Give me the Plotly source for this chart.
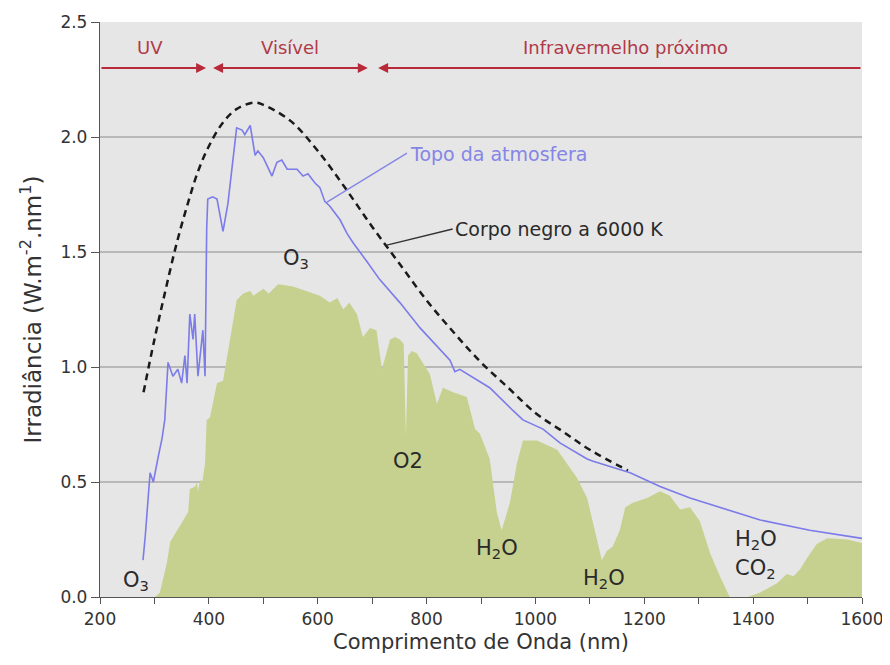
import plotly.graph_objects as go

# Top of atmosphere spectrum
toa_wl = [279,283,292,298,307,314,319,325,334,343,350,356,360,365,371,374,380,387,389,393,
          396,398,407,415,426,435,451,461,466,476,485,490,500,516,525,534,544,562,573,582,
          595,604,613,622,641,654,665,690,714,751,788,843,852,861,916,959,977,1014,1045,1095,
          1106,1174,1229,1284,1339,1413,1504,1600]
toa_val = [0.16,0.26,0.54,0.50,0.61,0.69,0.77,1.02,0.96,0.99,0.93,1.05,0.93,1.23,1.12,1.23,0.96,1.10,1.16,0.96,
           1.60,1.73,1.74,1.73,1.59,1.71,2.04,2.03,2.01,2.05,1.92,1.94,1.91,1.83,1.89,1.90,1.86,1.86,1.83,1.84,
           1.80,1.78,1.72,1.70,1.64,1.58,1.54,1.46,1.38,1.28,1.17,1.03,0.98,0.99,0.91,0.81,0.77,0.73,0.67,0.60,
           0.59,0.54,0.48,0.43,0.39,0.335,0.29,0.255]

# Sea level spectrum (green area)
sea_wl = [301,310,323,329,347,362,365,375,378,380,384,388,393,396,402,415,426,439,451,463,
          476,482,500,510,527,555,580,604,622,636,647,658,672,683,696,708,718,733,742,751,
          758,762,766,773,782,806,819,830,849,874,889,898,916,929,938,953,966,977,1003,1040,
          1076,1095,1110,1122,1131,1142,1155,1165,1179,1205,1229,1247,1266,1284,1302,1321,1339,1352,1357,1390,
          1413,1444,1462,1474,1486,1499,1517,1536,1573,1600]
sea_val = [0,0.02,0.15,0.24,0.31,0.37,0.47,0.48,0.50,0.46,0.51,0.50,0.58,0.77,0.78,0.93,0.94,1.13,1.29,1.32,
           1.33,1.31,1.34,1.32,1.36,1.35,1.33,1.31,1.28,1.30,1.25,1.28,1.23,1.13,1.17,1.16,0.99,1.12,1.13,1.12,
           1.10,0.70,1.05,1.07,1.06,0.97,0.84,0.91,0.89,0.87,0.73,0.71,0.60,0.37,0.29,0.41,0.58,0.68,0.68,0.64,
           0.52,0.43,0.28,0.16,0.20,0.22,0.29,0.39,0.41,0.43,0.46,0.44,0.38,0.39,0.33,0.19,0.09,0.02,0.0,0.0,
           0.02,0.06,0.10,0.09,0.12,0.17,0.23,0.255,0.25,0.235]

# Black body at 6000 K
bb_wl = [280,300,320,340,360,380,400,425,450,483,500,550,600,650,700,750,800,850,900,950,1000,1050,1100,1170]
bb_val = [0.89,1.12,1.33,1.53,1.70,1.85,1.96,2.06,2.12,2.15,2.14,2.07,1.94,1.78,1.61,1.45,1.29,1.15,1.02,0.91,0.80,0.72,0.64,0.55]

x_tickvals = [200,300,400,500,600,700,800,900,1000,1100,1200,1300,1400,1500,1600]
x_ticktext = ["200","","400","","600","","800","","1000","","1200","","1400","","1600"]
y_tickvals = [0.0,0.5,1.0,1.5,2.0,2.5]

FONT = "DejaVu Sans"
RED = "#b8293a"
BLUE = "#7b7bea"
DARK = "#2a2a2a"

fig = go.Figure()
fig.add_trace(go.Scatter(x=sea_wl, y=sea_val, mode="lines", fill="tozeroy",
                         fillcolor="#c6d190", line=dict(width=0, color="#c6d190"),
                         hoverinfo="skip", showlegend=False))
fig.add_trace(go.Scatter(x=bb_wl, y=bb_val, mode="lines", line_shape="spline",
                         line=dict(color="#1a1a1a", width=2.5, dash="7px,5px"),
                         showlegend=False))
fig.add_trace(go.Scatter(x=toa_wl, y=toa_val, mode="lines",
                         line=dict(color=BLUE, width=1.6), showlegend=False))

annotations = []
# Region arrows
for (x_head, x_tail, side) in [(395, 200, "end"), (692, 405, "end+start"), (711, 1600, "end")]:
    annotations.append(dict(x=x_head, y=2.3, ax=x_tail, ay=2.3, xref="x", yref="y",
                            axref="x", ayref="y", text="", showarrow=True,
                            arrowhead=2, arrowsize=1.0, arrowwidth=2, arrowcolor=RED,
                            arrowside=side, startarrowhead=2, startarrowsize=1.0))
for (txt, xx) in [("UV", 292), ("Visível", 549), ("Infravermelho próximo", 1165)]:
    annotations.append(dict(x=xx, y=2.39, xref="x", yref="y", text=txt, showarrow=False,
                            font=dict(family=FONT, size=18, color="#b03a48")))

chem = [("O<sub>3</sub>", 266, 0.07), ("O<sub>3</sub>", 560, 1.47), ("O2", 766, 0.59),
        ("H<sub>2</sub>O", 930, 0.21), ("H<sub>2</sub>O", 1126, 0.08),
        ("H<sub>2</sub>O", 1405, 0.25), ("CO<sub>2</sub>", 1405, 0.12)]
for (txt, xx, yy) in chem:
    annotations.append(dict(x=xx, y=yy, xref="x", yref="y", text=txt, showarrow=False,
                            font=dict(family=FONT, size=21, color=DARK)))

annotations.append(dict(x=766, y=1.925, xref="x", yref="y", text="Topo da atmosfera",
                        showarrow=False, xanchor="left",
                        font=dict(family=FONT, size=19, color="#8585e6")))
annotations.append(dict(x=848, y=1.60, xref="x", yref="y", text="Corpo negro a 6000 K",
                        showarrow=False, xanchor="left",
                        font=dict(family=FONT, size=19, color=DARK)))

shapes = [
    dict(type="line", xref="x", yref="y", x0=764, y0=1.93, x1=617, y1=1.717,
         line=dict(color="#8585e6", width=1.3)),
    dict(type="line", xref="x", yref="y", x0=848, y0=1.60, x1=727, y1=1.53,
         line=dict(color="#333333", width=1.3)),
]

fig.update_layout(
    width=890, height=665,
    margin=dict(l=92, r=36, t=14, b=76),
    paper_bgcolor="white", plot_bgcolor="#e6e6e6",
    font=dict(family=FONT, size=17, color="#333333"),
    annotations=annotations, shapes=shapes,
    xaxis=dict(range=[200, 1600], tickvals=x_tickvals, ticktext=x_ticktext, automargin=False,
               ticks="outside", ticklen=6, tickcolor="#555555", tickwidth=1.3,
               showgrid=False, zeroline=False, showline=True, linecolor="#555555", linewidth=1.3,
               tickfont=dict(family=FONT, size=17, color="#333333"),
               title=dict(text="Comprimento de Onda (nm)", standoff=6,
                          font=dict(family=FONT, size=21, color="#333333"))),
    yaxis=dict(range=[0, 2.5], tickvals=y_tickvals, tickformat=".1f", automargin=False,
               ticks="outside", ticklen=8, tickcolor="#555555", tickwidth=1.3,
               showgrid=True, gridcolor="#b8b8b8", gridwidth=1.5, zeroline=False,
               showline=True, linecolor="#555555", linewidth=1.3,
               tickfont=dict(family=FONT, size=17, color="#333333"),
               title=dict(text="Irradiância (W.m<sup>-2</sup>.nm<sup>1</sup>)", standoff=12,
                          font=dict(family=FONT, size=23, color="#333333"))),
)

fig.write_html("out.html")
